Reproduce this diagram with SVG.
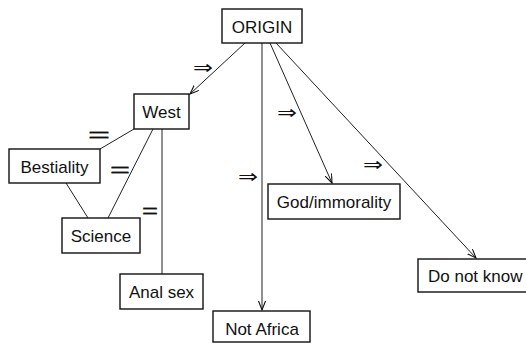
<svg xmlns="http://www.w3.org/2000/svg" width="526" height="346" viewBox="0 0 526 346">
<defs>
<marker id="ah" markerUnits="userSpaceOnUse" markerWidth="10" markerHeight="8" refX="9" refY="3.5" orient="auto">
<path d="M0,0 L9,3.5 L0,7" fill="none" stroke="#111" stroke-width="1.1"/>
</marker>
<style>
.box{fill:#fff;stroke:#111;stroke-width:1.4}
.lbl{font-family:"Liberation Sans",Arial,sans-serif;font-size:17px;fill:#111;text-anchor:middle}
.ln{stroke:#222;stroke-width:1;fill:none}
.arr{marker-end:url(#ah)}
.imp{font-family:"DejaVu Sans",sans-serif;font-size:19px;fill:#111}
.eq{font-family:"Liberation Sans",Arial,sans-serif;font-size:20px;fill:#111;stroke:#111;stroke-width:0.4}
</style>
</defs>
<rect width="526" height="346" fill="#fff"/>
<g id="connectors">
<line class="ln arr" x1="245" y1="43" x2="190" y2="94"/>
<line class="ln arr" x1="262" y1="43" x2="262" y2="310"/>
<line class="ln arr" x1="270" y1="43" x2="332" y2="183"/>
<line class="ln arr" x1="276" y1="43" x2="476" y2="258"/>
<line class="ln" x1="134" y1="129" x2="100" y2="149"/>
<line class="ln" x1="153" y1="129" x2="108" y2="218"/>
<line class="ln" x1="162" y1="129" x2="162" y2="274"/>
<line class="ln" x1="66" y1="183" x2="88" y2="218"/>
</g>
<g id="symbols">
<text class="imp" x="193" y="73.5" textLength="20" lengthAdjust="spacingAndGlyphs">⇒</text>
<text class="imp" x="277" y="118.5" textLength="20" lengthAdjust="spacingAndGlyphs">⇒</text>
<text class="imp" x="238" y="182.5" textLength="20" lengthAdjust="spacingAndGlyphs">⇒</text>
<text class="imp" x="363" y="170.5" textLength="20" lengthAdjust="spacingAndGlyphs">⇒</text>
<text class="eq" x="88" y="142" textLength="22" lengthAdjust="spacingAndGlyphs">=</text>
<text class="eq" x="110" y="177" textLength="20" lengthAdjust="spacingAndGlyphs">=</text>
<text class="eq" x="142" y="217.5" textLength="16" lengthAdjust="spacingAndGlyphs">=</text>
</g>
<g id="origin"><rect class="box" x="222" y="9" width="80" height="34"/><text class="lbl" x="262" y="33">ORIGIN</text></g>
<g id="west"><rect class="box" x="134" y="94" width="55" height="35"/><text class="lbl" x="161.5" y="118">West</text></g>
<g id="bestiality"><rect class="box" x="9" y="149" width="91" height="34"/><text class="lbl" x="54.5" y="173">Bestiality</text></g>
<g id="science"><rect class="box" x="62" y="218" width="78" height="35"/><text class="lbl" x="101" y="242">Science</text></g>
<g id="analsex"><rect class="box" x="120" y="274" width="83" height="35"/><text class="lbl" x="161.5" y="298">Anal sex</text></g>
<g id="notafrica"><rect class="box" x="213" y="311" width="97" height="31"/><text class="lbl" x="262" y="335">Not Africa</text></g>
<g id="god"><rect class="box" x="268" y="184" width="132" height="35"/><text class="lbl" x="334" y="208">God/immorality</text></g>
<g id="donotknow"><rect class="box" x="418" y="259" width="120" height="33"/><text class="lbl" x="428" y="282" style="text-anchor:start">Do not know</text></g>
</svg>
